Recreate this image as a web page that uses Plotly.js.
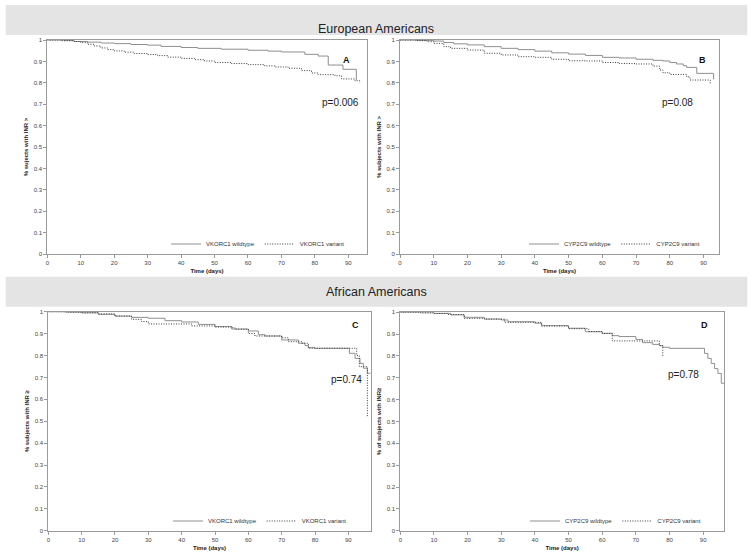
<!DOCTYPE html>
<html>
<head>
<meta charset="utf-8">
<script src="https://cdn.plot.ly/plotly-3.0.1.min.js"></script>
<style>html,body{margin:0;padding:0;background:#fff;}#chart{width:753px;height:558px;}</style>
</head>
<body>
<div id="chart"></div>
<script>
// ---- Data ----
// Panel A: European Americans, VKORC1
const aWildDays = [0, 5, 8, 12, 16, 20, 25, 30, 34, 40, 45, 52, 60, 66, 70, 77, 81, 84, 88.4, 92.4];
const aWildVals = [1, 0.997, 0.993, 0.99, 0.986, 0.983, 0.979, 0.976, 0.97, 0.965, 0.961, 0.957, 0.952, 0.948, 0.944, 0.933, 0.925, 0.883, 0.863, 0.813];
const aVarDays = [0, 4, 8, 10, 12, 14, 16, 18, 20, 23, 26, 30, 33, 36, 40, 44, 47, 50, 55, 60, 65, 68, 72, 76, 79, 81, 86, 88, 92, 93.4];
const aVarVals = [1, 0.997, 0.993, 0.988, 0.98, 0.972, 0.963, 0.955, 0.949, 0.943, 0.937, 0.932, 0.927, 0.92, 0.914, 0.908, 0.902, 0.895, 0.89, 0.885, 0.879, 0.874, 0.868, 0.857, 0.846, 0.838, 0.833, 0.818, 0.81, 0.8];
// Panel B: European Americans, CYP2C9
const bWildDays = [0, 5, 10, 13, 16, 20, 25, 30, 35, 40, 45, 50, 55, 60, 65, 70, 75, 78, 80, 82, 84, 85, 88, 93];
const bWildVals = [1, 0.998, 0.995, 0.988, 0.982, 0.977, 0.969, 0.961, 0.955, 0.948, 0.94, 0.934, 0.928, 0.919, 0.916, 0.91, 0.905, 0.902, 0.895, 0.888, 0.88, 0.872, 0.844, 0.816];
const bVarDays = [0, 5, 8, 10, 13, 15, 20, 25, 30, 35, 40, 45, 50, 55, 60, 65, 70, 75, 77, 78, 80, 85, 86, 92];
const bVarVals = [1, 0.997, 0.992, 0.984, 0.969, 0.961, 0.953, 0.938, 0.93, 0.922, 0.919, 0.91, 0.903, 0.902, 0.895, 0.89, 0.888, 0.878, 0.86, 0.847, 0.839, 0.828, 0.813, 0.797];
// Panel C: African Americans, VKORC1
const cWildDays = [0, 5, 10, 15, 20, 25, 30, 35, 40, 45, 50, 55, 60, 63, 65, 70, 75, 77, 78, 80, 90.3, 92, 93.5, 94.5, 95.7, 96.7];
const cWildVals = [1, 0.998, 0.995, 0.988, 0.98, 0.974, 0.97, 0.959, 0.953, 0.942, 0.932, 0.921, 0.912, 0.895, 0.889, 0.871, 0.856, 0.845, 0.836, 0.833, 0.81, 0.787, 0.764, 0.742, 0.719, 0.719];
const cVarDays = [0, 6, 10, 15, 20, 25, 28, 30, 43, 50, 55, 56, 60, 62, 70, 72, 76, 78, 92.5, 93.3, 95.7];
const cVarVals = [1, 0.998, 0.995, 0.99, 0.98, 0.965, 0.955, 0.944, 0.935, 0.93, 0.927, 0.92, 0.9, 0.889, 0.881, 0.863, 0.856, 0.833, 0.8, 0.749, 0.52];
// Panel D: African Americans, CYP2C9
const dWildDays = [0, 6, 10, 15, 19, 25, 30, 32, 40, 42, 50, 55, 60, 63, 65, 70, 72, 75, 77, 78, 80, 90.4, 91.4, 92.4, 93.4, 94.4, 95.4, 96.4];
const dWildVals = [1, 0.998, 0.995, 0.988, 0.977, 0.969, 0.965, 0.957, 0.95, 0.939, 0.927, 0.911, 0.904, 0.893, 0.889, 0.876, 0.861, 0.853, 0.847, 0.84, 0.835, 0.812, 0.789, 0.766, 0.742, 0.72, 0.675, 0.675];
const dVarDays = [0, 6, 10, 14, 19, 25, 31, 42, 50, 56, 60, 63, 77, 78];
const dVarVals = [1, 0.998, 0.995, 0.99, 0.972, 0.969, 0.954, 0.937, 0.925, 0.912, 0.903, 0.869, 0.848, 0.8];

const seriesNames = ["VKORC1 wildtype", "VKORC1 variant", "CYP2C9 wildtype", "CYP2C9 variant"];
const panelLabels = ["A", "B", "C", "D"];
const pValues = ["p=0.006", "p=0.08", "p=0.74", "p=0.78"];
const groupTitles = ["European Americans", "African Americans"];
const yTitles = ["% sujects with INR >", "% subjects with INR >", "% subjects with INR \u2265", "% of subjects with INR\u2265"];
const xTitle = "Time (days)";
const xTickVals = [0, 10, 20, 30, 40, 50, 60, 70, 80, 90];
const yTickVals = [0, 0.1, 0.2, 0.3, 0.4, 0.5, 0.6, 0.7, 0.8, 0.9, 1];

// ---- Layout helpers ----
const W = 753, H = 558;
const px = v => v / W;
const py = v => 1 - v / H;

const WILD_COLOR = '#8f8f8f';
const VAR_COLOR = '#3a3a3a';

function curve(x, y, name, ax, legend, wild) {
  return {
    type: 'scatter', mode: 'lines', x: x, y: y, name: name,
    xaxis: 'x' + ax, yaxis: 'y' + ax, legend: legend,
    line: wild ? {shape: 'hv', color: WILD_COLOR, width: 1}
               : {shape: 'hv', color: VAR_COLOR, width: 1, dash: '1px,1.5px'},
    hoverinfo: 'x+y+name'
  };
}

const data = [
  curve(aWildDays, aWildVals, seriesNames[0], '', 'legend', true),
  curve(aVarDays, aVarVals, seriesNames[1], '', 'legend', false),
  curve(bWildDays, bWildVals, seriesNames[2], '2', 'legend2', true),
  curve(bVarDays, bVarVals, seriesNames[3], '2', 'legend2', false),
  curve(cWildDays, cWildVals, seriesNames[0], '3', 'legend3', true),
  curve(cVarDays, cVarVals, seriesNames[1], '3', 'legend3', false),
  curve(dWildDays, dWildVals, seriesNames[2], '4', 'legend4', true),
  curve(dVarDays, dVarVals, seriesNames[3], '4', 'legend4', false)
];

function xax(x0, x1, maxDay, anchor) {
  return {
    domain: [px(x0), px(x1)], range: [0, maxDay], anchor: anchor,
    tickvals: xTickVals, showgrid: false, zeroline: false,
    showline: true, mirror: true, linecolor: '#9a9a9a', linewidth: 1,
    ticks: 'outside', ticklen: 3, tickcolor: '#9a9a9a',
    tickfont: {size: 6, color: '#444'},
    title: {text: xTitle, font: {size: 6, color: '#222', weight: 'bold'}, standoff: 3}
  };
}
function yax(yTop, yBot, title, anchor) {
  return {
    domain: [py(yBot), py(yTop)], range: [0, 1], anchor: anchor,
    tickvals: yTickVals, showgrid: false, zeroline: false,
    showline: true, mirror: true, linecolor: '#9a9a9a', linewidth: 1,
    ticks: 'outside', ticklen: 3, tickcolor: '#9a9a9a',
    tickfont: {size: 6, color: '#444'},
    title: {text: title, font: {size: 6, color: '#222', weight: 'bold'}, standoff: 4}
  };
}
function leg(xRight, yMid) {
  return {
    x: px(xRight), xanchor: 'right', y: py(yMid), yanchor: 'middle',
    orientation: 'h', font: {size: 6, color: '#333'},
    bgcolor: 'rgba(0,0,0,0)', borderwidth: 0, traceorder: 'normal'
  };
}

const annotations = [
  {text: groupTitles[0], x: px(376), y: py(20), xref: 'paper', yref: 'paper', showarrow: false, font: {size: 12.5, color: '#222'}},
  {text: groupTitles[1], x: px(376), y: py(291.7), xref: 'paper', yref: 'paper', showarrow: false, font: {size: 12.5, color: '#222'}},
  {text: '<b>' + panelLabels[0] + '</b>', x: px(346.7), y: py(53.3), xref: 'paper', yref: 'paper', showarrow: false, font: {size: 9, color: '#111'}},
  {text: '<b>' + panelLabels[1] + '</b>', x: px(708), y: py(52.7), xref: 'paper', yref: 'paper', showarrow: false, font: {size: 9, color: '#111'}},
  {text: '<b>' + panelLabels[2] + '</b>', x: px(355), y: py(325), xref: 'paper', yref: 'paper', showarrow: false, font: {size: 9, color: '#111'}},
  {text: '<b>' + panelLabels[3] + '</b>', x: px(710), y: py(325), xref: 'paper', yref: 'paper', showarrow: false, font: {size: 9, color: '#111'}},
  {text: pValues[0], x: px(340), y: py(95), xref: 'paper', yref: 'paper', showarrow: false, font: {size: 10, color: '#222'}},
  {text: pValues[1], x: px(694.5), y: py(95), xref: 'paper', yref: 'paper', showarrow: false, font: {size: 10, color: '#222'}},
  {text: pValues[2], x: px(346), y: py(387), xref: 'paper', yref: 'paper', showarrow: false, font: {size: 10, color: '#222'}},
  {text: pValues[3], x: px(701), y: py(381.7), xref: 'paper', yref: 'paper', showarrow: false, font: {size: 10, color: '#222'}}
];

const shapes = [
  {type: 'rect', xref: 'paper', yref: 'paper', x0: px(5.7), x1: px(747.3), y0: py(35), y1: py(5), fillcolor: '#e4e4e4', line: {width: 0}, layer: 'below'},
  {type: 'rect', xref: 'paper', yref: 'paper', x0: px(5.7), x1: px(747.3), y0: py(306.7), y1: py(276.7), fillcolor: '#e4e4e4', line: {width: 0}, layer: 'below'}
];

const layout = {
  width: W, height: H,
  margin: {l: 0, r: 0, t: 0, b: 0},
  paper_bgcolor: '#ffffff', plot_bgcolor: 'rgba(0,0,0,0)',
  font: {family: '"Liberation Sans", Arial, sans-serif', size: 6, color: '#333'},
  showlegend: true,
  xaxis: xax(47.3, 366.7, 95.5, 'y'),
  yaxis: yax(40, 254, yTitles[0], 'x'),
  xaxis2: xax(400, 719, 94.6, 'y2'),
  yaxis2: yax(40, 254, yTitles[1], 'x2'),
  xaxis3: xax(48.3, 370.7, 96.7, 'y3'),
  yaxis3: yax(311.7, 530.7, yTitles[2], 'x3'),
  xaxis4: xax(400.3, 724, 96.2, 'y4'),
  yaxis4: yax(312.3, 530.7, yTitles[3], 'x4'),
  legend: leg(350, 244),
  legend2: leg(705, 244),
  legend3: leg(352, 521),
  legend4: leg(706, 521),
  annotations: annotations,
  shapes: shapes
};

Plotly.newPlot('chart', data, layout, {staticPlot: true, displayModeBar: false});
</script>
</body>
</html>
